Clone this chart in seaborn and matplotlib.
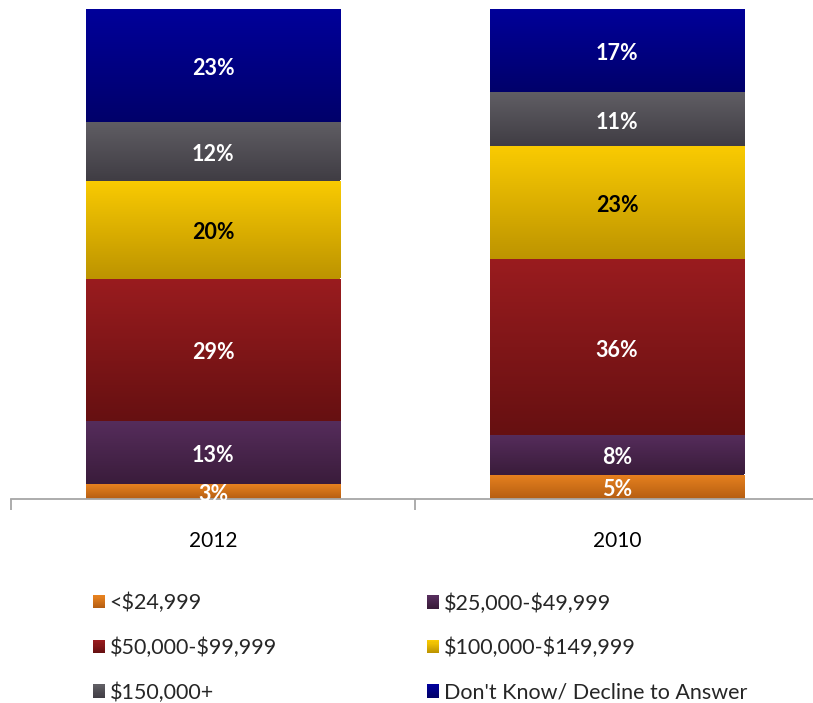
import numpy as np
import pandas as pd
import matplotlib
matplotlib.use("Agg")
import matplotlib.pyplot as plt
from matplotlib.colors import LinearSegmentedColormap, to_rgb
from matplotlib.patches import Patch, Rectangle
from matplotlib.legend_handler import HandlerBase
from matplotlib.transforms import offset_copy
import seaborn as sns

# Survey data: household income share by year (percent)
categories = ["2012", "2010"]
segments = ["<$24,999", "$25,000-$49,999", "$50,000-$99,999",
            "$100,000-$149,999", "$150,000+", "Don't Know/ Decline to Answer"]
values_2012 = [3, 13, 29, 20, 12, 23]
values_2010 = [5, 8, 36, 23, 11, 17]

# Gradient colours per segment: (top, bottom)
seg_colors = [("#E8821F", "#B55E12"),
              ("#562D5C", "#3A1C3B"),
              ("#9A1C1F", "#661011"),
              ("#FACB02", "#BD9400"),
              ("#605E64", "#403D44"),
              ("#00009A", "#00006A")]
label_colors = ["white", "white", "white", "black", "white", "white"]

sns.set_theme(style="white")
plt.rcParams["font.family"] = ["Lato", "DejaVu Sans"]

df = pd.DataFrame({
    "year": np.repeat(categories, len(segments)),
    "segment": segments * len(categories),
    "pct": values_2012 + values_2010,
})

W, H = 813, 703
fig = plt.figure(figsize=(W / 100, H / 100), dpi=100)
ax = fig.add_axes([11 / W, 1 - 499 / H, 808 / W, 490 / H])
label_tf = offset_copy(ax.transData, fig=fig, x=0, y=-3, units="dots")

bottoms = np.zeros(len(categories))
for i, seg in enumerate(segments):
    sub = df[df["segment"] == seg].set_index("year").loc[categories].reset_index()
    n_before = len(ax.patches)
    sns.barplot(data=sub, x="year", y="pct", order=categories, color=seg_colors[i][1],
                width=0.63, bottom=bottoms.copy(), errorbar=None, ax=ax,
                linewidth=0, saturation=1)
    new = ax.patches[n_before:]
    cmap = LinearSegmentedColormap.from_list("g", [seg_colors[i][1], seg_colors[i][0]])
    for j, p in enumerate(new):
        x0, y0, w, h = p.get_x(), p.get_y(), p.get_width(), p.get_height()
        im = ax.imshow(np.linspace(0, 1, 256).reshape(-1, 1), cmap=cmap, origin="lower",
                       extent=(x0, x0 + w, y0, y0 + h), aspect="auto", zorder=2,
                       interpolation="bilinear")
        im.set_clip_path(p)
        ax.text(x0 + w / 2, y0 + h / 2, f"{sub['pct'].iloc[j]}%", ha="center", va="center",
                color=label_colors[i], fontsize=15.5, fontweight="bold", zorder=4,
                transform=label_tf)
    bottoms += sub["pct"].to_numpy()

ax.set_xlim(-0.5, 1.5)
ax.set_ylim(0, 100)
ax.set_xlabel("")
ax.set_ylabel("")
ax.set_yticks([])
for s in ["top", "left", "right"]:
    ax.spines[s].set_visible(False)
ax.spines["bottom"].set_color("#A6A6A6")
ax.spines["bottom"].set_linewidth(1.3)
ax.set_xticks([0, 1])
ax.set_xticklabels(categories, fontsize=15, color="black")
ax.set_xticks([-0.5, 0.5, 1.5], minor=True)
ax.tick_params(axis="x", which="major", length=0, pad=23)
ax.tick_params(axis="x", which="minor", length=8, width=1.3, color="#A6A6A6",
               direction="out", bottom=True)
ax.set_facecolor("none")


class GradientHandler(HandlerBase):
    """Legend key drawn as a small vertical gradient square."""
    def __init__(self, top, bottom, steps=12):
        super().__init__()
        self.top, self.bottom, self.steps = to_rgb(top), to_rgb(bottom), steps

    def create_artists(self, legend, orig_handle, xdescent, ydescent, width, height,
                       fontsize, trans):
        arts = []
        n = self.steps
        for k in range(n):
            t = k / (n - 1)
            c = tuple(b + (tp - b) * t for b, tp in zip(self.bottom, self.top))
            r = Rectangle((-xdescent, -ydescent + height * k / n), width, height / n + 0.3,
                          facecolor=c, edgecolor="none", transform=trans)
            arts.append(r)
        return arts


handles = [Patch() for _ in segments]
hmap = {h: GradientHandler(*seg_colors[i]) for i, h in enumerate(handles)}
labels = [s.replace("$", r"\$") for s in segments]

legend_kws = dict(frameon=False, fontsize=15.5, handlelength=0.55, handleheight=0.55,
                  handletextpad=0.22, labelspacing=1.13, borderpad=0, borderaxespad=0,
                  loc="center left", handler_map=hmap)
fig.legend([handles[0], handles[2], handles[4]], [labels[0], labels[2], labels[4]],
           bbox_to_anchor=(93 / W, 1 - 648 / H), **legend_kws)
fig.legend([handles[1], handles[3], handles[5]], [labels[1], labels[3], labels[5]],
           bbox_to_anchor=(427 / W, 1 - 648 / H), **legend_kws)

fig.savefig("out.png", dpi=100)
